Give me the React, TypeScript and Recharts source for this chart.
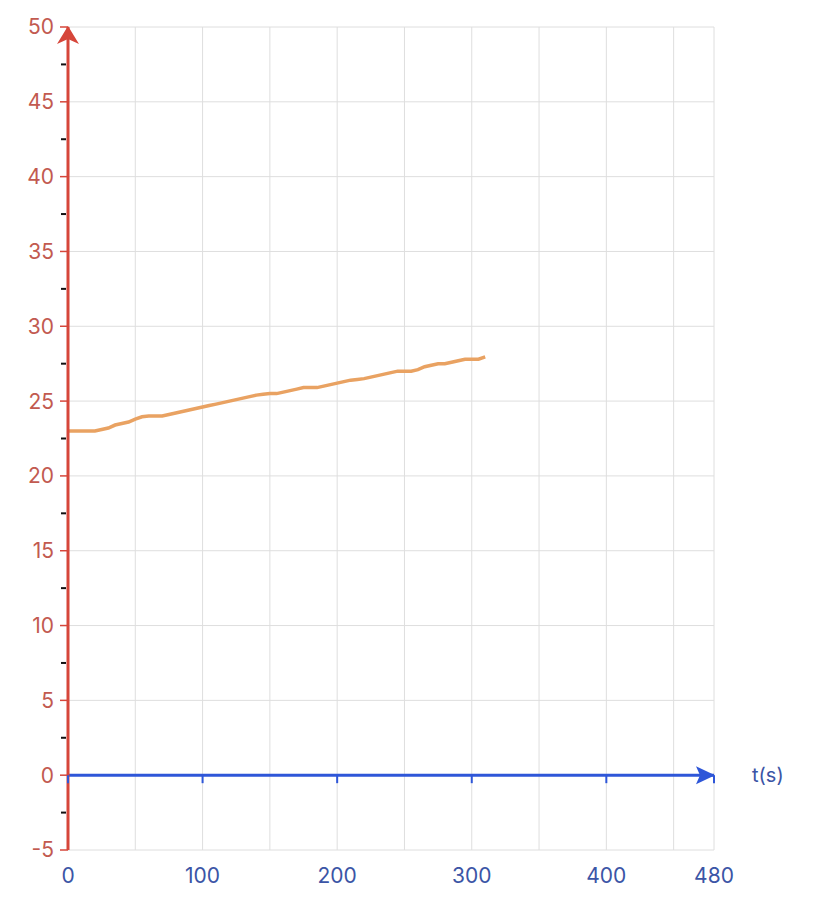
import React from 'react';
import {
    LineChart, Line, XAxis, YAxis, CartesianGrid, ReferenceLine, ReferenceDot,
} from 'recharts';

// time (s) and reading
const TIMES = [
    0, 5, 10, 15, 20, 25, 30, 35, 40, 45, 50, 55, 60, 65, 70, 75, 80, 85, 90, 95,
    100, 105, 110, 115, 120, 125, 130, 135, 140, 145, 150, 155, 160, 165, 170, 175,
    180, 185, 190, 195, 200, 205, 210, 215, 220, 225, 230, 235, 240, 245, 250, 255,
    260, 265, 270, 275, 280, 285, 290, 295, 300, 305, 310,
];
const VALUES = [
    23.0, 23.0, 23.0, 23.0, 23.0, 23.1, 23.2, 23.4, 23.5, 23.6, 23.8, 23.95, 24.0, 24.0, 24.0, 24.1, 24.2, 24.3, 24.4, 24.5,
    24.6, 24.7, 24.8, 24.9, 25.0, 25.1, 25.2, 25.3, 25.4, 25.45, 25.5, 25.5, 25.6, 25.7, 25.8, 25.9,
    25.9, 25.9, 26.0, 26.1, 26.2, 26.3, 26.4, 26.45, 26.5, 26.6, 26.7, 26.8, 26.9, 27.0, 27.0, 27.0,
    27.1, 27.3, 27.4, 27.5, 27.5, 27.6, 27.7, 27.8, 27.8, 27.8, 27.95,
];

const X_LABEL_TICKS = [0, 100, 200, 300, 400, 480];
const X_GRID = [50, 100, 150, 200, 250, 300, 350, 400, 450, 480];
const Y_TICKS = [-5, 0, 5, 10, 15, 20, 25, 30, 35, 40, 45, 50];
const Y_MINOR = [-2.5, 2.5, 7.5, 12.5, 17.5, 22.5, 27.5, 32.5, 37.5, 42.5, 47.5];
const X_DOMAIN = [0, 480];
const Y_DOMAIN = [-5, 50];

const data = TIMES.map((t, i) => ({ t, v: VALUES[i] }));

const RED_AXIS = '#d6463a';
const RED_TEXT = '#c25a50';
const BLUE_AXIS = '#2e56d8';
const BLUE_TEXT = '#3b55a6';
const GRID = '#dedede';
const FONT = 'Inter, "Noto Sans", sans-serif';

const UpArrow = (props: any) => (
    <path
        d={`M${props.cx},${props.cy - 1} L${props.cx + 11},${props.cy + 17} L${props.cx},${props.cy + 12} L${props.cx - 11},${props.cy + 17} Z`}
        fill={RED_AXIS}
    />
);

const RightArrow = (props: any) => (
    <path
        d={`M${props.cx + 1},${props.cy} L${props.cx - 18},${props.cy + 9} L${props.cx - 14},${props.cy} L${props.cx - 18},${props.cy - 9} Z`}
        fill={BLUE_AXIS}
    />
);

const MinorTick = (props: any) => (
    <line x1={props.cx - 7} y1={props.cy} x2={props.cx - 2} y2={props.cy} stroke="#111" strokeWidth={2} />
);

const ZeroTick = (props: any) => (
    <line x1={props.cx} y1={props.cy} x2={props.cx} y2={props.cy + 8} stroke={BLUE_AXIS} strokeWidth={2} />
);

export default function App() {
    return (
        <div style={{ position: 'absolute', left: 0, top: 0, background: '#fff' }}>
            <LineChart
                width={820}
                height={922}
                data={data}
                margin={{ top: 27, right: 106, bottom: 32, left: 8 }}
            >
                <CartesianGrid horizontal vertical={false} stroke={GRID} />
                {X_GRID.map(x => (
                    <ReferenceLine key={`g${x}`} x={x} stroke={GRID} strokeWidth={1} />
                ))}
                <XAxis
                    type="number"
                    dataKey="t"
                    domain={X_DOMAIN}
                    ticks={X_LABEL_TICKS}
                    axisLine={false}
                    tickLine={false}
                    height={40}
                    tickMargin={12}
                    tick={{ fontSize: 21, fill: BLUE_TEXT, fontFamily: FONT }}
                />
                <YAxis
                    type="number"
                    domain={Y_DOMAIN}
                    ticks={Y_TICKS}
                    width={60}
                    axisLine={{ stroke: RED_AXIS, strokeWidth: 3 }}
                    tickLine={{ stroke: RED_AXIS, strokeWidth: 1.5 }}
                    tickSize={8}
                    tickMargin={6}
                    tick={{ fontSize: 21, fill: RED_TEXT, fontFamily: FONT }}
                />
                <ReferenceLine
                    y={0}
                    stroke={BLUE_AXIS}
                    strokeWidth={3}
                    label={{ value: 't(s)', position: 'right', offset: 38, fill: BLUE_TEXT, fontSize: 20, fontFamily: FONT }}
                />
                {X_LABEL_TICKS.map(x => (
                    <ReferenceDot key={`z${x}`} x={x} y={0} r={0} shape={ZeroTick} />
                ))}
                {Y_MINOR.map(y => (
                    <ReferenceDot key={`m${y}`} x={0} y={y} r={0} shape={MinorTick} />
                ))}
                <Line
                    type="linear"
                    dataKey="v"
                    stroke="#e9a262"
                    strokeWidth={3.5}
                    dot={false}
                    isAnimationActive={false}
                />
                <ReferenceDot x={0} y={50} r={0} shape={UpArrow} />
                <ReferenceDot x={480} y={0} r={0} shape={RightArrow} />
            </LineChart>
        </div>
    );
}
